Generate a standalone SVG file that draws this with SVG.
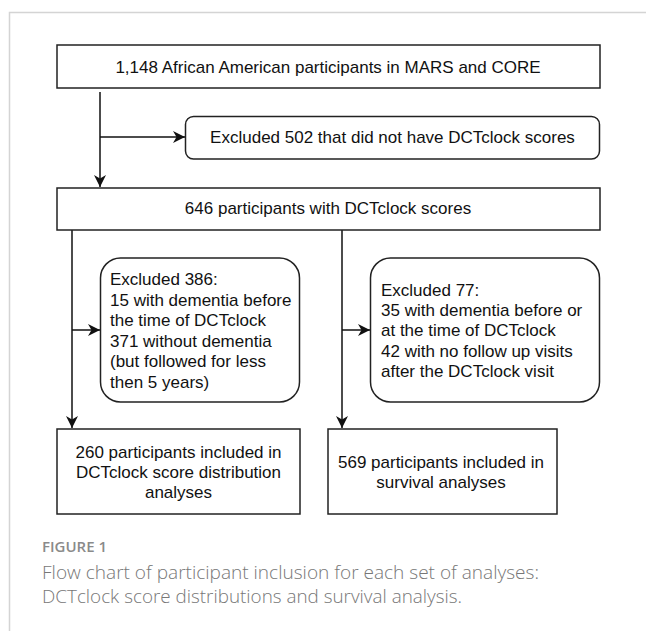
<svg xmlns="http://www.w3.org/2000/svg" width="646" height="631" viewBox="0 0 646 631">
  <defs>
    <marker id="arrow" markerUnits="userSpaceOnUse" markerWidth="13" markerHeight="13" viewBox="0 0 13 13" refX="12" refY="6.5" orient="auto">
      <path d="M0,0.5 L12,6.5 L0,12.5 L3.5,6.5 Z" fill="#111"/>
    </marker>
    <style>
      .box { fill: #fff; stroke: #222; stroke-width: 1.5; }
      .t { font-family: "Liberation Sans", Arial, sans-serif; font-size: 17px; fill: #111; }
      .c { text-anchor: middle; }
      .edge { fill: none; stroke: #111; stroke-width: 1.5; marker-end: url(#arrow); }
      .frame { fill: none; stroke: #d4d4d4; stroke-width: 1.5; }
      .figlabel { font-family: "Open Sans", "Noto Sans", sans-serif; font-size: 15px; font-weight: 600; fill: #8a8a8a; }
      .caption { font-family: "Open Sans", "Noto Sans", sans-serif; font-size: 18px; font-weight: 300; fill: #777; }
    </style>
  </defs>
  <rect width="646" height="631" fill="#fff"/>
  <path class="frame" d="M9.5,631 V12.5 H646"/>

  <g id="connectors">
    <path class="edge" d="M100,92 V187"/>
    <path class="edge" d="M100,137 H185"/>
    <path class="edge" d="M72,230 V428"/>
    <path class="edge" d="M72,330 H100"/>
    <path class="edge" d="M342,230 V428"/>
    <path class="edge" d="M342,330 H370"/>
  </g>

  <g id="n-start">
    <rect class="box" x="57" y="45" width="543" height="43"/>
    <text class="t c" x="328" y="73">1,148 African American participants in MARS and CORE</text>
  </g>

  <g id="n-excl502">
    <rect class="box" x="185.5" y="116.5" width="414" height="42.5" rx="8" ry="8"/>
    <text class="t c" x="392.5" y="143">Excluded 502 that did not have DCTclock scores</text>
  </g>

  <g id="n-646">
    <rect class="box" x="57" y="188" width="543" height="42"/>
    <text class="t c" x="328" y="214">646 participants with DCTclock scores</text>
  </g>

  <g id="n-excl386">
    <rect class="box" x="100.5" y="258" width="199" height="144" rx="20" ry="20"/>
    <text class="t" x="110" y="285">Excluded 386:</text>
    <text class="t" x="110" y="306">15 with dementia before</text>
    <text class="t" x="110" y="326">the time of DCTclock</text>
    <text class="t" x="110" y="347">371 without dementia</text>
    <text class="t" x="110" y="367">(but followed for less</text>
    <text class="t" x="110" y="388">then 5 years)</text>
  </g>

  <g id="n-excl77">
    <rect class="box" x="370.5" y="258" width="229" height="144" rx="20" ry="20"/>
    <text class="t" x="381" y="296">Excluded 77:</text>
    <text class="t" x="381" y="316">35 with dementia before or</text>
    <text class="t" x="381" y="336">at the time of DCTclock</text>
    <text class="t" x="381" y="357">42 with no follow up visits</text>
    <text class="t" x="381" y="377">after the DCTclock visit</text>
  </g>

  <g id="n-260">
    <rect class="box" x="57" y="429" width="243" height="85"/>
    <text class="t c" x="178.5" y="458">260 participants included in</text>
    <text class="t c" x="178.5" y="478">DCTclock score distribution</text>
    <text class="t c" x="178.5" y="498">analyses</text>
  </g>

  <g id="n-569">
    <rect class="box" x="328" y="429" width="229" height="85"/>
    <text class="t c" x="441" y="468">569 participants included in</text>
    <text class="t c" x="441" y="488">survival analyses</text>
  </g>

  <text class="figlabel" x="42" y="552">FIGURE 1</text>
  <text class="caption" x="42" y="579" textLength="497" lengthAdjust="spacingAndGlyphs">Flow chart of participant inclusion for each set of analyses:</text>
  <text class="caption" x="42" y="603" textLength="420" lengthAdjust="spacingAndGlyphs">DCTclock score distributions and survival analysis.</text>
</svg>
